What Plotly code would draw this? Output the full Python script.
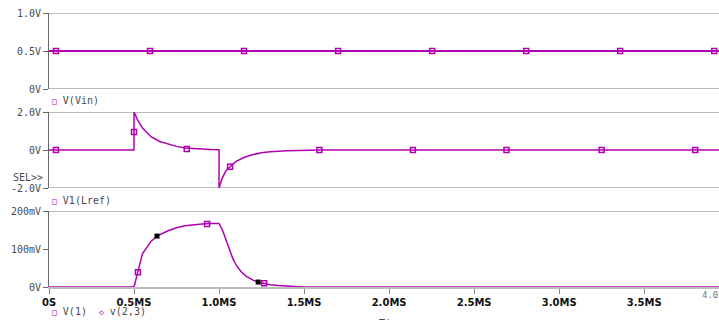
import plotly.graph_objects as go

# ---- data (time in ms) ----
vin_t = [0.0, 3.94]
vin_v = [0.5, 0.5]
vin_mark_t = [0.041, 0.594, 1.147, 1.70, 2.253, 2.806, 3.359, 3.912]
vin_mark_v = [0.5, 0.5, 0.5, 0.5, 0.5, 0.5, 0.5, 0.5]

lref_t = [0.0, 0.5, 0.5, 0.52, 0.55, 0.6, 0.65, 0.7, 0.75, 0.8, 0.85, 0.9, 0.95, 1.0,
          1.0, 1.02, 1.04, 1.065, 1.1, 1.15, 1.2, 1.25, 1.3, 1.4, 1.5, 1.6, 3.94]
lref_v = [0.0, 0.0, 2.0, 1.6, 1.15, 0.7, 0.45, 0.3, 0.19, 0.11, 0.07, 0.04, 0.02, 0.01,
          -2.0, -1.45, -1.1, -0.88, -0.6, -0.38, -0.24, -0.15, -0.09, -0.04, -0.02, 0.0, 0.0]
lref_mark_t = [0.041, 0.5, 0.81, 1.065, 1.59, 2.14, 2.69, 3.25, 3.80]
lref_mark_v = [0.0, 0.95, 0.05, -0.88, 0.0, 0.0, 0.0, 0.0, 0.0]

v1_t = [0.0, 0.5, 0.52, 0.55, 0.6, 0.635, 0.7, 0.75, 0.8, 0.85, 0.9, 0.95, 1.0,
        1.02, 1.04, 1.06, 1.08, 1.1, 1.13, 1.16, 1.2, 1.23, 1.265, 1.3, 1.35, 1.4, 1.45, 1.5, 3.94]
v1_v = [0.0, 0.0, 36, 88, 120, 134, 148, 156, 161, 164, 166, 167, 167,
        150, 125, 100, 76, 58, 40, 28, 18, 13, 9, 6, 4, 2, 1, 0, 0]
v1_mark_t = [0.523, 0.93, 1.265]
v1_mark_v = [39, 166, 10]
v23_mark_t = [0.635, 1.23]
v23_mark_v = [134, 13]

x_tickvals = [0, 0.5, 1.0, 1.5, 2.0, 2.5, 3.0, 3.5]
x_ticktext = ["0S", "0.5MS", "1.0MS", "1.5MS", "2.0MS", "2.5MS", "3.0MS", "3.5MS"]

MAG = "#b000b0"
GRID = "#bdbdbd"
AXC = "#666666"
W, H = 719, 320

def py(px):
    return 1 - px / H

fig = go.Figure()

open_sq = dict(symbol="square-open", size=5, color=MAG, line=dict(width=1.5))

# top: V(Vin)
fig.add_trace(go.Scatter(x=vin_t, y=vin_v, mode="lines", line=dict(color=MAG, width=2),
                         xaxis="x", yaxis="y"))
fig.add_trace(go.Scatter(x=vin_mark_t, y=vin_mark_v, mode="markers", marker=open_sq,
                         xaxis="x", yaxis="y"))
# middle: V1(Lref)
fig.add_trace(go.Scatter(x=lref_t, y=lref_v, mode="lines", line=dict(color=MAG, width=1.5),
                         xaxis="x", yaxis="y2"))
fig.add_trace(go.Scatter(x=lref_mark_t, y=lref_mark_v, mode="markers", marker=open_sq,
                         xaxis="x", yaxis="y2"))
# bottom: V(1) and v(2,3)
fig.add_trace(go.Scatter(x=v1_t, y=v1_v, mode="lines", line=dict(color=MAG, width=1.5),
                         xaxis="x", yaxis="y3"))
fig.add_trace(go.Scatter(x=v1_mark_t, y=v1_mark_v, mode="markers", marker=open_sq,
                         xaxis="x", yaxis="y3"))
fig.add_trace(go.Scatter(x=v23_mark_t, y=v23_mark_v, mode="markers",
                         marker=dict(symbol="square", size=5, color="black"),
                         xaxis="x", yaxis="y3"))

yfont = dict(family="DejaVu Sans Mono", size=10, color="#4a4a4a")
ycommon = dict(showgrid=False, zeroline=False, showline=True, linecolor=AXC, linewidth=1,
               ticks="outside", ticklen=5, tickcolor=AXC, tickfont=yfont, fixedrange=True,
               automargin=False)

x0d = 49 / W
fig.update_layout(
    width=W, height=H, margin=dict(l=0, r=0, t=0, b=0, autoexpand=False),
    paper_bgcolor="white", plot_bgcolor="white", showlegend=False,
    xaxis=dict(domain=[x0d, 1], range=[0, 3.94], anchor="y3", showgrid=False, zeroline=False,
               showline=True, linecolor=GRID, linewidth=2, ticks="outside", ticklen=5,
               tickcolor="#888888", tickvals=x_tickvals, ticktext=x_ticktext, automargin=False,
               tickfont=dict(family="DejaVu Sans", size=10, color="#111111", weight="bold")),
    yaxis=dict(domain=[py(89), py(13)], range=[0, 1], tickvals=[0, 0.5, 1.0],
               ticktext=["0V", "0.5V", "1.0V"], **ycommon),
    yaxis2=dict(domain=[py(188), py(112)], range=[-2, 2], tickvals=[-2, 0, 2],
                ticktext=["-2.0V", "0V", "2.0V"], **ycommon),
    yaxis3=dict(domain=[py(287), py(211)], range=[0, 200], tickvals=[0, 100, 200],
                ticktext=["0V", "100mV", "200mV"], **ycommon),
)

# frame lines at the top and bottom of each panel
shapes = []
for yref, vals in (("y", [0, 1]), ("y2", [-2, 2]), ("y3", [200])):
    for v in vals:
        shapes.append(dict(type="line", xref="paper", yref=yref, x0=x0d, x1=1, y0=v, y1=v,
                           line=dict(color=GRID, width=2), layer="below"))
fig.update_layout(shapes=shapes)

lfont = dict(family="DejaVu Sans Mono", size=10, color="#4a4a4a")
sq = '<span style="color:%s;font-size:8px">□</span>' % MAG
dm = '<span style="color:%s;font-size:8px">◇</span>' % MAG
ann = [
    dict(text=sq + " V(Vin)", x=50 / W, y=py(100)),
    dict(text=sq + " V1(Lref)", x=50 / W, y=py(200)),
    dict(text=sq + " V(1)  " + dm + " v(2,3)", x=50 / W, y=py(311)),
]
annotations = [dict(a, xref="paper", yref="paper", xanchor="left", yanchor="middle",
                    showarrow=False, font=lfont) for a in ann]
annotations.append(dict(text="SEL>>", x=45 / W, y=py(177), xref="paper", yref="paper",
                        xanchor="right", yanchor="middle", showarrow=False, font=lfont))
annotations.append(dict(text="4.0", x=700 / W, y=py(295), xref="paper", yref="paper",
                        xanchor="left", yanchor="middle", showarrow=False,
                        font=dict(family="DejaVu Sans Mono", size=9, color="#777777")))
annotations.append(dict(text="Time", x=377 / W, y=py(316), xref="paper", yref="paper",
                        xanchor="left", yanchor="top", showarrow=False, font=lfont))
fig.update_layout(annotations=annotations)

fig.write_html("out.html")
